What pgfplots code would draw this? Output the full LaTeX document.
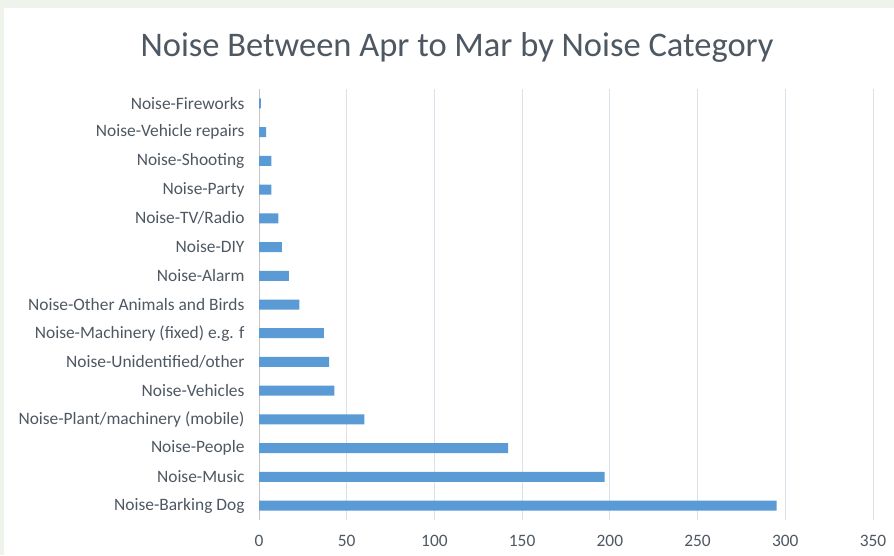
\documentclass[border=0pt]{standalone}
\usepackage{pgfplots}
\pgfplotsset{compat=1.18}
\usepackage{fontspec}
\setmainfont{Carlito}
\definecolor{barblue}{RGB}{91,155,213}
\definecolor{txtgray}{RGB}{78,88,98}
\definecolor{gridc}{RGB}{217,225,234}
\definecolor{framec}{RGB}{238,243,236}
\begin{document}
\begin{tikzpicture}[x=1pt,y=1pt]
\fill[framec] (0,0) rectangle (894,555);
\fill[white] (4,0) rectangle (894,547);
\node[txtgray, font=\fontsize{34.5}{40}\selectfont] at (457,508) {Noise Between Apr to Mar by Noise Category};
\begin{axis}[at={(259pt,35pt)}, anchor=south west, scale only axis,
  width=614pt, height=431pt,
  xmin=0, xmax=350, ymin=-0.5, ymax=14.5,
  xbar, bar width=10pt,
  xtick={0,50,...,350}, ytick={0,...,14},
  yticklabels={Noise-Barking Dog, Noise-Music, Noise-People, Noise-Plant/machinery (mobile), Noise-Vehicles, Noise-Unidentified/other, Noise-Machinery (fixed) e.g. f, Noise-Other Animals and Birds, Noise-Alarm, Noise-DIY, Noise-TV/Radio, Noise-Party, Noise-Shooting, Noise-Vehicle repairs, Noise-Fireworks},
  xmajorgrids, major grid style={draw=gridc, line width=0.8pt},
  axis line style={draw=none},
  major tick length=0pt,
  /pgf/number format/assume math mode=true,
  ticklabel style={text=txtgray, font=\fontsize{17.4}{20}\selectfont},
  xticklabel style={yshift=-12pt},
  yticklabel style={xshift=-11pt},
]
\draw[gray!45, line width=0.8pt] (axis cs:0,-0.5) -- (axis cs:0,14.5);
\addplot[fill=barblue, draw=none] coordinates {
(295,0) (197,1) (142,2) (60,3) (43,4) (40,5) (37,6) (23,7) (17,8) (13,9) (11,10) (7,11) (7,12) (4,13) (1,14)
};
\end{axis}
\end{tikzpicture}
\end{document}
